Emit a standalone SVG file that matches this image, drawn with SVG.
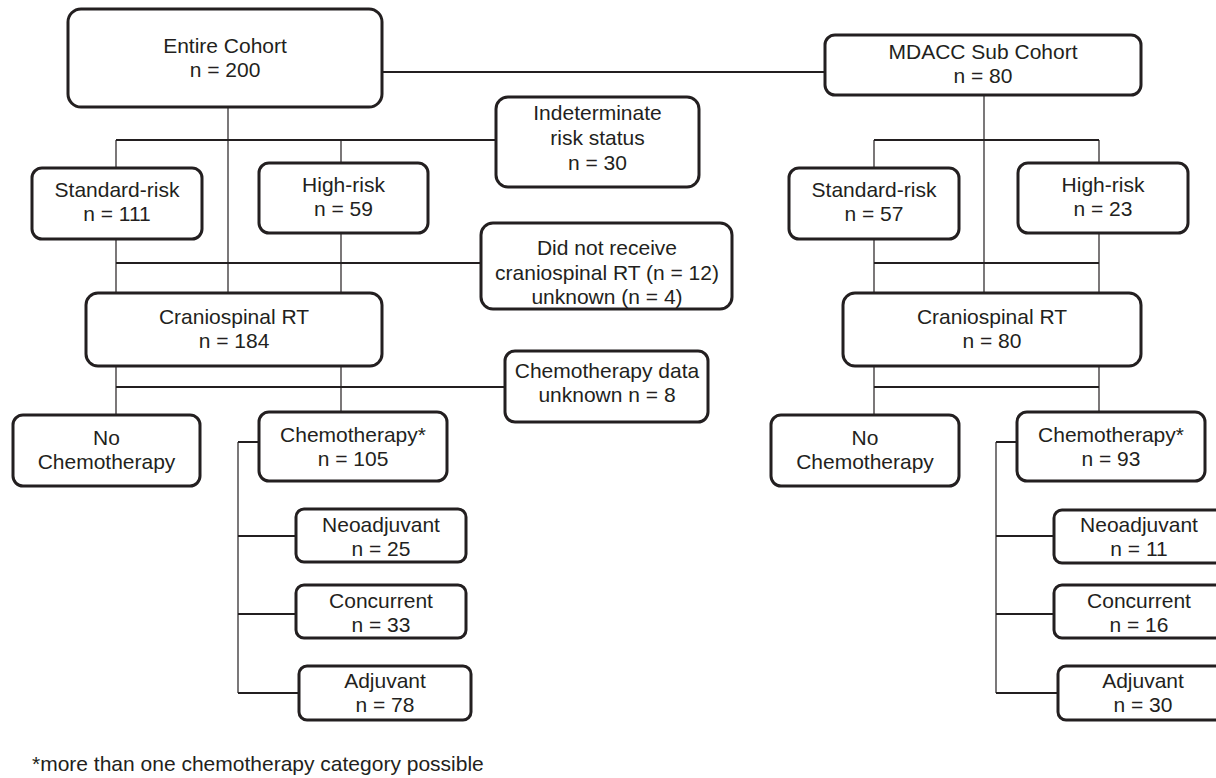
<svg xmlns="http://www.w3.org/2000/svg" width="1216" height="778" viewBox="0 0 1216 778">
<style>
.box{fill:#fff;stroke:#231f20;stroke-width:3}
.t{font-family:"Liberation Sans",Arial,Helvetica,sans-serif;font-size:21px;fill:#231f20;text-anchor:middle}
.fn{font-family:"Liberation Sans",Arial,Helvetica,sans-serif;font-size:21px;fill:#231f20}
.h{stroke:#231f20;stroke-width:1.8;fill:none}
.v{stroke:#231f20;stroke-width:1.2;fill:none}
</style>
<rect width="1216" height="778" fill="#fff"/>
<g id="connectors">
<path class="h" d="M382 72H825"/>
<path class="v" d="M228 107V293"/>
<path class="h" d="M116 140H496"/>
<path class="v" d="M116 140V168M341 140V163M116 239V293M341 233V293M116 366V415M341 366V412"/>
<path class="h" d="M116 263H481"/>
<path class="h" d="M116 387H505"/>
<path class="v" d="M238 442V693"/>
<path class="h" d="M238 442H259M238 536H296M238 614H296M238 693H299"/>
<path class="v" d="M984 95V293"/>
<path class="h" d="M874 140H1099M874 263H1099M874 387H1099"/>
<path class="v" d="M874 140V168M1099 140V163M874 239V293M1099 233V293M874 366V415M1099 366V412"/>
<path class="v" d="M996 442V693"/>
<path class="h" d="M996 442H1017M996 536H1054M996 614H1054M996 693H1058"/>
</g>
<g id="entire-cohort"><rect class="box" x="68" y="9" width="314" height="98" rx="13"/><text class="t" x="225" y="53">Entire Cohort</text><text class="t" x="225" y="77">n = 200</text></g>
<g id="mdacc-sub-cohort"><rect class="box" x="825" y="35" width="316" height="60" rx="10"/><text class="t" x="983" y="59">MDACC Sub Cohort</text><text class="t" x="983" y="83">n = 80</text></g>
<g id="indeterminate"><rect class="box" x="496" y="97" width="203" height="90" rx="12"/><text class="t" x="597.5" y="120">Indeterminate</text><text class="t" x="597.5" y="145">risk status</text><text class="t" x="597.5" y="170">n = 30</text></g>
<g id="standard-risk-left"><rect class="box" x="32" y="168" width="170" height="71" rx="10"/><text class="t" x="117" y="197">Standard-risk</text><text class="t" x="117" y="221">n = 111</text></g>
<g id="high-risk-left"><rect class="box" x="259" y="163" width="169" height="70" rx="10"/><text class="t" x="343.5" y="192">High-risk</text><text class="t" x="343.5" y="216">n = 59</text></g>
<g id="standard-risk-right"><rect class="box" x="789" y="168" width="170" height="71" rx="10"/><text class="t" x="874" y="197">Standard-risk</text><text class="t" x="874" y="221">n = 57</text></g>
<g id="high-risk-right"><rect class="box" x="1018" y="163" width="170" height="70" rx="10"/><text class="t" x="1103" y="192">High-risk</text><text class="t" x="1103" y="216">n = 23</text></g>
<g id="no-craniospinal"><rect class="box" x="481" y="223" width="251" height="86" rx="12"/><text class="t" x="607" y="255">Did not receive</text><text class="t" x="607" y="280">craniospinal RT (n = 12)</text><text class="t" x="607" y="304">unknown (n = 4)</text></g>
<g id="craniospinal-left"><rect class="box" x="86" y="293" width="296" height="73" rx="12"/><text class="t" x="234" y="324">Craniospinal RT</text><text class="t" x="234" y="348">n = 184</text></g>
<g id="craniospinal-right"><rect class="box" x="843" y="293" width="298" height="73" rx="12"/><text class="t" x="992" y="324">Craniospinal RT</text><text class="t" x="992" y="348">n = 80</text></g>
<g id="chemo-unknown"><rect class="box" x="505" y="351" width="203" height="71" rx="10"/><text class="t" x="607" y="378">Chemotherapy data</text><text class="t" x="607" y="402">unknown n = 8</text></g>
<g id="no-chemo-left"><rect class="box" x="13" y="415" width="187" height="71" rx="10"/><text class="t" x="106.5" y="445">No</text><text class="t" x="106.5" y="469">Chemotherapy</text></g>
<g id="chemo-left"><rect class="box" x="259" y="412" width="188" height="69" rx="10"/><text class="t" x="353" y="442">Chemotherapy*</text><text class="t" x="353" y="466">n = 105</text></g>
<g id="no-chemo-right"><rect class="box" x="771" y="415" width="188" height="71" rx="10"/><text class="t" x="865" y="445">No</text><text class="t" x="865" y="469">Chemotherapy</text></g>
<g id="chemo-right"><rect class="box" x="1017" y="412" width="188" height="69" rx="10"/><text class="t" x="1111" y="442">Chemotherapy*</text><text class="t" x="1111" y="466">n = 93</text></g>
<g id="neoadjuvant-left"><rect class="box" x="296" y="509" width="170" height="53" rx="8"/><text class="t" x="381" y="532">Neoadjuvant</text><text class="t" x="381" y="556">n = 25</text></g>
<g id="concurrent-left"><rect class="box" x="296" y="585" width="170" height="53" rx="8"/><text class="t" x="381" y="608">Concurrent</text><text class="t" x="381" y="632">n = 33</text></g>
<g id="adjuvant-left"><rect class="box" x="299" y="666" width="172" height="54" rx="8"/><text class="t" x="385" y="688">Adjuvant</text><text class="t" x="385" y="712">n = 78</text></g>
<g id="neoadjuvant-right"><rect class="box" x="1054" y="510" width="172" height="53" rx="8"/><text class="t" x="1139" y="532">Neoadjuvant</text><text class="t" x="1139" y="556">n = 11</text></g>
<g id="concurrent-right"><rect class="box" x="1054" y="585" width="172" height="53" rx="8"/><text class="t" x="1139" y="608">Concurrent</text><text class="t" x="1139" y="632">n = 16</text></g>
<g id="adjuvant-right"><rect class="box" x="1058" y="666" width="172" height="54" rx="8"/><text class="t" x="1143" y="688">Adjuvant</text><text class="t" x="1143" y="712">n = 30</text></g>
<text class="fn" x="32" y="771">*more than one chemotherapy category possible</text>
</svg>
